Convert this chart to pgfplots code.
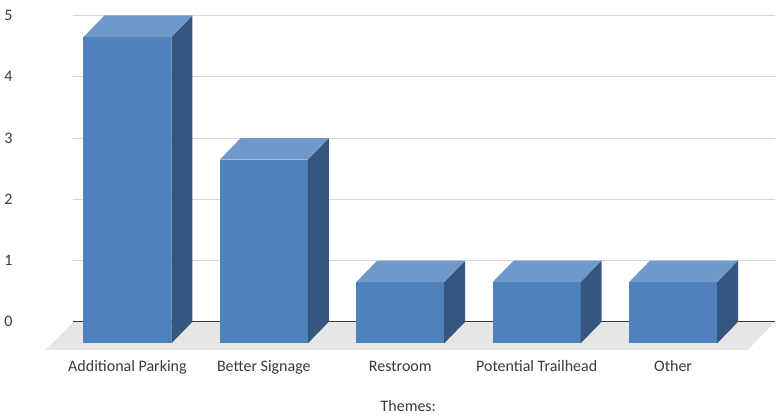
\documentclass[border=0pt]{standalone}
\usepackage{fontspec}
\setmainfont{Carlito}
\usepackage{pgfplots}
\pgfplotsset{compat=1.18}

\definecolor{barfront}{HTML}{4F81BD}
\definecolor{barside}{HTML}{35577F}
\definecolor{bartop}{HTML}{7099CB}
\definecolor{floorgray}{HTML}{E6E6E6}
\definecolor{gridgray}{HTML}{D9D9D9}
\definecolor{textgray}{HTML}{3A3A3A}

\begin{document}
\begin{tikzpicture}
\begin{axis}[
  x=102.375pt, y=45.975pt,
  xmin=-0.3956, xmax=4.747,
  ymin=0, ymax=5,
  clip=false,
  axis line style={draw=none},
  major tick length=0pt,
  ytick={0,1,2,3,4,5},
  ymajorgrids,
  grid style={gridgray, line width=0.75pt},
  xtick={0,1,2,3,4},
  xticklabels={Additional Parking, Better Signage, Restroom, Potential Trailhead, Other},
  /pgf/number format/assume math mode=true,
  font=\fontsize{12pt}{14pt}\selectfont,
  yticklabel style={anchor=center, xshift=-48.75pt, text=textgray},
  xticklabel style={anchor=base, yshift=-37.5pt, text=textgray},
  xlabel={Themes:},
  xlabel style={at={(axis cs:2.059,-1.37)}, anchor=center, text=textgray},
]
% canvas extent
\path (axis cs:-0.930,-1.533) rectangle (axis cs:4.769,5.253);

% floor
\addplot[fill=floorgray, draw=none] coordinates {(-0.3956,0) (4.747,0) (4.549,-0.457) (-0.6007,-0.457)} --cycle;
% base line at zero
\addplot[textgray, line width=0.75pt] coordinates {(-0.3956,0) (4.747,0)};

% Additional Parking: 5
\addplot[fill=barfront, draw=none] coordinates {(-0.3223,-0.351) (0.3223,-0.351) (0.3223,4.649) (-0.3223,4.649)} --cycle;
\addplot[fill=barside, draw=none] coordinates {(0.3223,-0.351) (0.4761,0) (0.4761,5) (0.3223,4.649)} --cycle;
\addplot[fill=bartop, draw=none] coordinates {(-0.3223,4.649) (-0.1685,5) (0.4761,5) (0.3223,4.649)} --cycle;

% Better Signage: 3
\addplot[fill=barfront, draw=none] coordinates {(0.6777,-0.351) (1.3223,-0.351) (1.3223,2.649) (0.6777,2.649)} --cycle;
\addplot[fill=barside, draw=none] coordinates {(1.3223,-0.351) (1.4761,0) (1.4761,3) (1.3223,2.649)} --cycle;
\addplot[fill=bartop, draw=none] coordinates {(0.6777,2.649) (0.8315,3) (1.4761,3) (1.3223,2.649)} --cycle;

% Restroom: 1
\addplot[fill=barfront, draw=none] coordinates {(1.6777,-0.351) (2.3223,-0.351) (2.3223,0.649) (1.6777,0.649)} --cycle;
\addplot[fill=barside, draw=none] coordinates {(2.3223,-0.351) (2.4761,0) (2.4761,1) (2.3223,0.649)} --cycle;
\addplot[fill=bartop, draw=none] coordinates {(1.6777,0.649) (1.8315,1) (2.4761,1) (2.3223,0.649)} --cycle;

% Potential Trailhead: 1
\addplot[fill=barfront, draw=none] coordinates {(2.6777,-0.351) (3.3223,-0.351) (3.3223,0.649) (2.6777,0.649)} --cycle;
\addplot[fill=barside, draw=none] coordinates {(3.3223,-0.351) (3.4761,0) (3.4761,1) (3.3223,0.649)} --cycle;
\addplot[fill=bartop, draw=none] coordinates {(2.6777,0.649) (2.8315,1) (3.4761,1) (3.3223,0.649)} --cycle;

% Other: 1
\addplot[fill=barfront, draw=none] coordinates {(3.6777,-0.351) (4.3223,-0.351) (4.3223,0.649) (3.6777,0.649)} --cycle;
\addplot[fill=barside, draw=none] coordinates {(4.3223,-0.351) (4.4761,0) (4.4761,1) (4.3223,0.649)} --cycle;
\addplot[fill=bartop, draw=none] coordinates {(3.6777,0.649) (3.8315,1) (4.4761,1) (4.3223,0.649)} --cycle;
\end{axis}
\end{tikzpicture}
\end{document}
